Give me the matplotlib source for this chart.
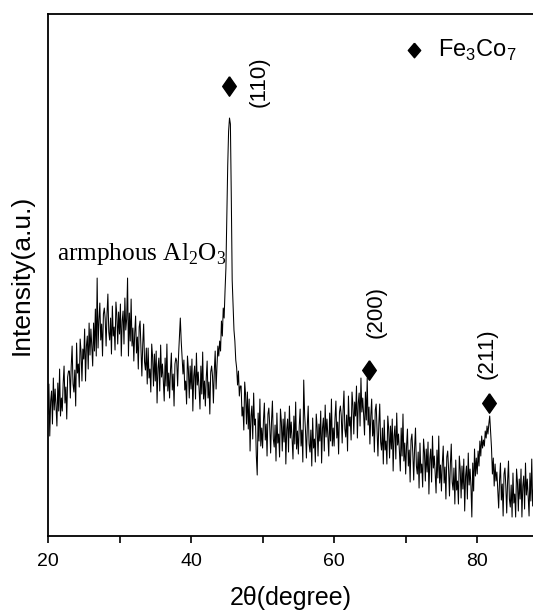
import matplotlib
matplotlib.use("Agg")
import matplotlib.pyplot as plt
import numpy as np

# XRD pattern, 0.125 degree steps starting at 20
two_theta_start = 20.0
two_theta_step = 0.125
intensity = [
    122, 152, 100, 135, 145, 112, 158, 126,
    147, 130, 110, 153, 125, 167, 120, 138,
    125, 153, 170, 133, 149, 117, 159, 165,
    165, 138, 170, 190, 152, 144, 166, 130,
    193, 163, 172, 149, 197, 184, 155, 187,
    177, 207, 155, 190, 200, 167, 213, 181,
    207, 190, 170, 213, 185, 227, 180, 258,
    188, 216, 233, 196, 212, 180, 222, 228,
    217, 190, 222, 242, 204, 196, 218, 182,
    230, 200, 209, 186, 234, 221, 192, 224,
    202, 232, 180, 215, 225, 192, 238, 206,
    217, 258, 180, 223, 195, 237, 190, 208,
    175, 203, 220, 183, 199, 167, 209, 215,
    187, 160, 192, 212, 174, 166, 188, 152,
    188, 158, 167, 144, 192, 179, 150, 182,
    155, 185, 133, 168, 178, 145, 191, 159,
    172, 155, 135, 178, 150, 192, 145, 163,
    138, 166, 183, 146, 162, 130, 172, 178,
    175, 150, 180, 200, 218, 195, 178, 162,
    176, 146, 155, 132, 180, 167, 138, 170,
    147, 177, 125, 160, 170, 137, 183, 151,
    164, 147, 127, 170, 142, 184, 137, 155,
    130, 158, 175, 138, 154, 122, 164, 170,
    160, 133, 165, 185, 147, 170, 190, 180,
    195, 185, 215, 200, 228, 218, 245, 268,
    320, 370, 405, 418, 412, 340, 256, 230,
    206, 195, 176, 168, 151, 165, 140, 150,
    150, 120, 129, 106, 154, 141, 112, 144,
    107, 137, 85, 120, 130, 97, 143, 111,
    117, 80, 61, 123, 95, 137, 90, 108,
    88, 116, 133, 96, 112, 80, 122, 128,
    110, 83, 115, 135, 97, 89, 111, 75,
    123, 93, 102, 79, 127, 114, 85, 117,
    94, 124, 72, 107, 117, 84, 130, 98,
    114, 97, 77, 120, 92, 134, 87, 105,
    82, 110, 127, 90, 106, 74, 156, 122,
    105, 78, 110, 130, 92, 84, 106, 70,
    118, 88, 97, 74, 122, 109, 80, 112,
    95, 125, 73, 108, 118, 85, 131, 99,
    117, 100, 80, 123, 95, 137, 90, 108,
    90, 118, 135, 98, 114, 82, 124, 130,
    120, 93, 125, 145, 107, 99, 121, 85,
    140, 110, 119, 96, 144, 131, 102, 134,
    120, 150, 98, 133, 143, 110, 158, 124,
    138, 121, 101, 144, 116, 158, 111, 129,
    92, 120, 137, 100, 116, 84, 126, 132,
    107, 80, 112, 132, 94, 86, 108, 72,
    116, 86, 95, 72, 120, 107, 78, 110,
    87, 117, 65, 100, 110, 77, 123, 91,
    102, 85, 65, 108, 80, 122, 75, 93,
    62, 90, 107, 70, 86, 54, 96, 102,
    83, 56, 88, 108, 70, 62, 84, 48,
    93, 63, 72, 49, 97, 84, 55, 87,
    64, 94, 42, 77, 87, 54, 100, 68,
    80, 63, 43, 86, 58, 100, 53, 71,
    45, 73, 90, 53, 69, 37, 79, 85,
    67, 40, 72, 92, 54, 46, 68, 32,
    76, 46, 55, 32, 80, 67, 38, 70,
    47, 77, 25, 60, 70, 37, 83, 51,
    67, 50, 19, 73, 45, 87, 60, 78,
    62, 85, 70, 95, 80, 100, 88, 96,
    90, 105, 98, 110, 102, 112, 120, 104,
    88, 62, 78, 50, 72, 55, 64, 45,
    28, 56, 73, 36, 52, 20, 62, 68,
    50, 23, 55, 75, 37, 29, 51, 19,
    63, 33, 42, 19, 67, 54, 25, 57,
    37, 67, 19, 50, 60, 27, 73, 41,
    57, 40, 20, 63, 35, 77, 30, 48,
]
two_theta = two_theta_start + two_theta_step * np.arange(len(intensity))

# Fe3Co7 reflections: marker position and label
peak_labels = ["(110)", "(200)", "(211)"]
marker_x = [45.3, 64.9, 81.7]
marker_y = [450, 166, 133]
label_x = [49.5, 65.9, 81.4]
label_y = [454, 224, 182]

# diamond a bit wider than matplotlib's thin 'd'
diamond = [(0, 1), (0.7, 0), (0, -1), (-0.7, 0), (0, 1)]
diamond_small = [(0, 1), (0.85, 0), (0, -1), (-0.85, 0), (0, 1)]

fig = plt.figure(figsize=(5.33, 6.11), dpi=100)
ax = fig.add_axes([0.090, 0.1227, 0.91, 0.8543])

ax.plot(two_theta, intensity, color="black", lw=0.75)

ax.plot(marker_x, marker_y, ls="none", marker=diamond, color="black", ms=14)
for lx, ly, t in zip(label_x, label_y, peak_labels):
    ax.text(lx, ly, t, rotation=90, ha="center", va="center",
            fontsize=16, family="Liberation Sans")

# legend-like annotation
ax.plot([71.2], [486], ls="none", marker=diamond_small, color="black", ms=10.5)
ax.text(74.5, 486, "Fe$_\\mathregular{3}$Co$_\\mathregular{7}$", ha="left",
        va="center", fontsize=17, family="Liberation Sans")

ax.text(21.3, 276, "armphous Al$_\\mathregular{2}$O$_\\mathregular{3}$",
        ha="left", va="baseline", fontsize=18.2, family="Liberation Serif")

ax.set_xlim(20, 87.8)
ax.set_ylim(0, 522)
ax.set_xticks([20, 40, 60, 80])
ax.set_xticks([30, 50, 70], minor=True)
ax.set_yticks([])
ax.tick_params(axis="x", which="both", direction="out", length=5, width=1.2,
               labelsize=14, pad=7)
for lab in ax.get_xticklabels():
    lab.set_family("Liberation Sans")
for s in ["left", "bottom", "top"]:
    ax.spines[s].set_linewidth(1.3)
ax.spines["right"].set_visible(False)

ax.set_xlabel("2\u03b8(degree)", fontsize=18, family="Liberation Sans", labelpad=12)
ax.set_ylabel("Intensity(a.u.)", fontsize=19, family="Liberation Sans", labelpad=10)

fig.savefig("out.png", dpi=100)
